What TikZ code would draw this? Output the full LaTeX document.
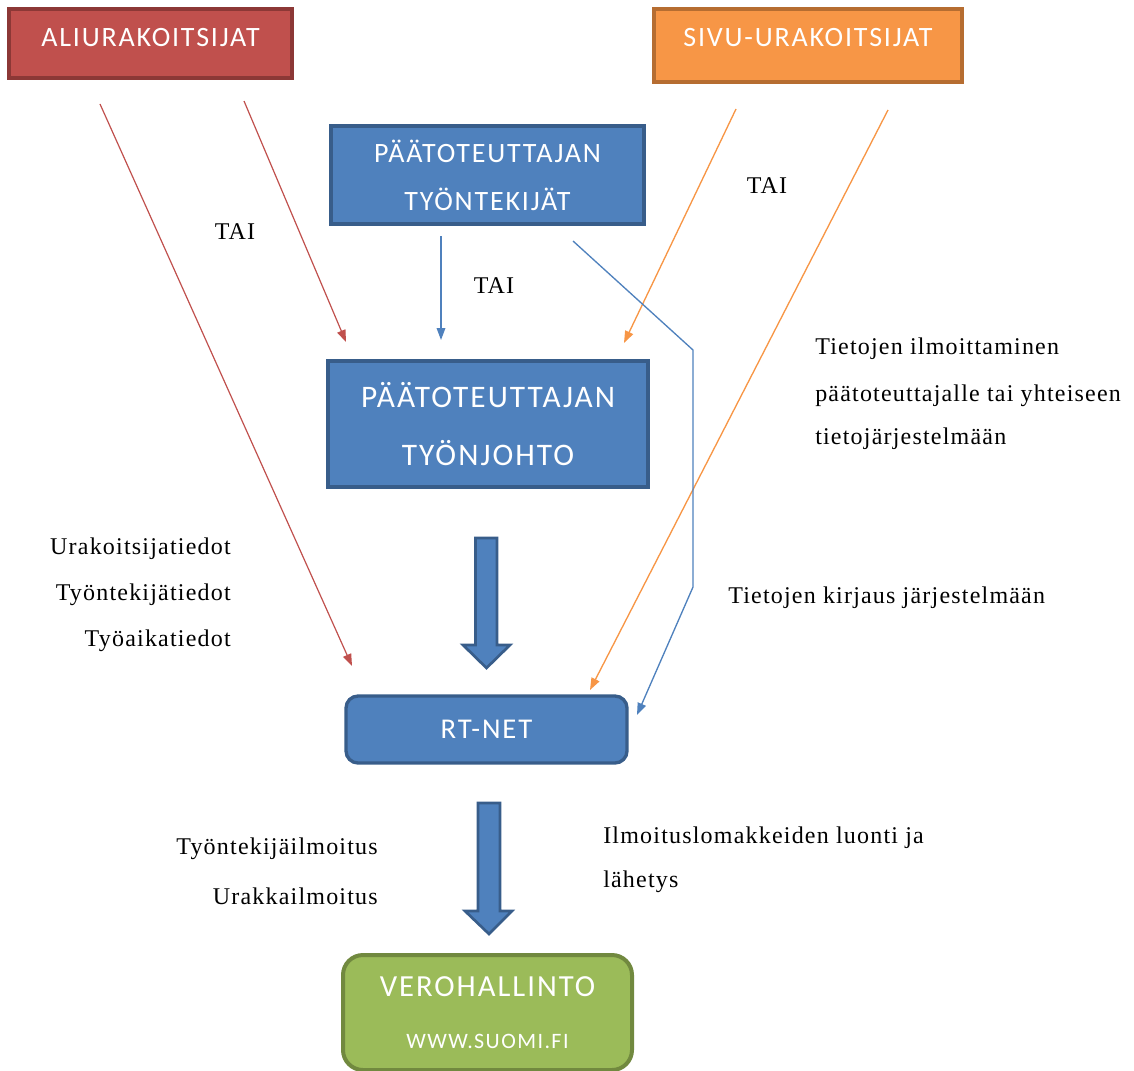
\documentclass[tikz,border=0pt]{standalone}
\usepackage{fontspec}
\setmainfont[LetterSpace=5]{Liberation Serif}
\newfontfamily\boxfont[LetterSpace=6.5]{Carlito}
\usetikzlibrary{arrows.meta}
\definecolor{redF}{HTML}{C0504D}
\definecolor{redB}{HTML}{8C3836}
\definecolor{orF}{HTML}{F79646}
\definecolor{orB}{HTML}{B66D31}
\definecolor{blF}{HTML}{4F81BD}
\definecolor{blB}{HTML}{385D8A}
\definecolor{grF}{HTML}{9BBB59}
\definecolor{grB}{HTML}{71893F}
\definecolor{redL}{HTML}{C0504D}
\definecolor{orL}{HTML}{F79646}
\definecolor{blL}{HTML}{4F81BD}
\begin{document}
\begin{tikzpicture}[x=0.75pt,y=-0.75pt,
  box/.style={line width=3pt, inner sep=0pt, text=white, align=center},
  bf/.style={font=\boxfont\fontsize{21pt}{36pt}\selectfont},
  conn/.style={line width=1pt, -{Triangle[length=9pt,width=6.5pt]}},
  lbl/.style={font=\fontsize{18pt}{20pt}\selectfont, inner sep=0pt},
  bigarrow/.style={fill=blF, draw=blB, line width=2pt, line join=miter}]
\useasboundingbox (0,0) rectangle (1134,1070);

% boxes
\node[box, bf, draw=redB, fill=redF, minimum width=212.25pt, minimum height=51.75pt] (ali) at (150.5,43.5)
  {\raisebox{4.5pt}[\height][\depth]{ALIURAKOITSIJAT}};
\node[box, bf, draw=orB, fill=orF, minimum width=231pt, minimum height=54.75pt] (siv) at (808,45.5)
  {\raisebox{6pt}[\height][\depth]{SIVU-URAKOITSIJAT}};
\node[box, bf, draw=blB, fill=blF, minimum width=234.75pt, minimum height=73.5pt] (tek) at (487.5,175)
  {PÄÄTOTEUTTAJAN\\TYÖNTEKIJÄT};
\node[box, font=\boxfont\fontsize{23.5pt}{43pt}\selectfont, draw=blB, fill=blF, minimum width=240pt, minimum height=94.5pt] (joh) at (488,424)
  {PÄÄTOTEUTTAJAN\\TYÖNJOHTO};
\node[box, font=\boxfont\fontsize{21.5pt}{36pt}\selectfont, draw=blB, fill=blF, rounded corners=9pt, line width=2.5pt, minimum width=210.75pt, minimum height=50.25pt] (rt) at (486.5,729.5)
  {RT-NET};
\node[box, font=\boxfont\fontsize{23pt}{39pt}\selectfont, draw=grB, fill=grF, rounded corners=15pt, minimum width=216.75pt, minimum height=86.25pt] (vero) at (487.5,1012.5)
  {VEROHALLINTO\\{\fontsize{16.5pt}{18pt}\selectfont WWW.SUOMI.FI}};

% big arrows
\draw[bigarrow] (475.5,538) -- (497,538) -- (497,645) -- (510,645) -- (486.5,668) -- (463,645) -- (475.5,645) -- cycle;
\draw[bigarrow] (478,803) -- (500,803) -- (500,911) -- (512,911) -- (489,934) -- (465,911) -- (478,911) -- cycle;

% free-end coordinates
\coordinate (r1s) at (100,104);
\coordinate (r1e) at (352,666);
\coordinate (r2s) at (244,101);
\coordinate (r2e) at (346,342);
\coordinate (o1s) at (736,109);
\coordinate (o1e) at (624,343);
\coordinate (o2s) at (888,110);
\coordinate (o2e) at (590,690);
\coordinate (b1s) at (441,236);
\coordinate (b1e) at (441,340);
\coordinate (b2s) at (573,241);
\coordinate (b2a) at (693,350);
\coordinate (b2b) at (693,587);
\coordinate (b2e) at (637,715);

\draw[conn, draw=redL, line width=0.9pt] (r1s) -- (r1e);
\draw[conn, draw=redL, line width=0.9pt] (r2s) -- (r2e);
\draw[conn, draw=orL] (o1s) -- (o1e);
\draw[conn, draw=orL] (o2s) -- (o2e);
\draw[conn, draw=blL] (b1s) -- (b1e);
\draw[conn, draw=blL, line join=miter] (b2s) -- (b2a) -- (b2b) -- (b2e);

% labels
\node[lbl] (tai1) at (235,232) {TAI};
\node[lbl] (tai2) at (494,286) {TAI};
\node[lbl] (tai3) at (767,186) {TAI};

\node[lbl, anchor=west] (ti1) at (815,349) {Tietojen ilmoittaminen};
\node[lbl, anchor=west] (ti2) at (815,396) {päätoteuttajalle tai yhteiseen};
\node[lbl, anchor=west] (ti3) at (815,439) {tietojärjestelmään};
\node[lbl, anchor=west] (tk) at (728,598) {Tietojen kirjaus järjestelmään};

\node[lbl, anchor=east] (u1) at (231,549) {Urakoitsijatiedot};
\node[lbl, anchor=east] (u2) at (231,595) {Työntekijätiedot};
\node[lbl, anchor=east] (u3) at (231,641) {Työaikatiedot};

\node[lbl, anchor=east] (i1) at (378,849) {Työntekijäilmoitus};
\node[lbl, anchor=east] (i2) at (378,896) {Urakkailmoitus};

\node[lbl, anchor=west] (l1) at (603,838) {Ilmoituslomakkeiden luonti ja};
\node[lbl, anchor=west] (l2) at (603,882) {lähetys};
\end{tikzpicture}
\end{document}
